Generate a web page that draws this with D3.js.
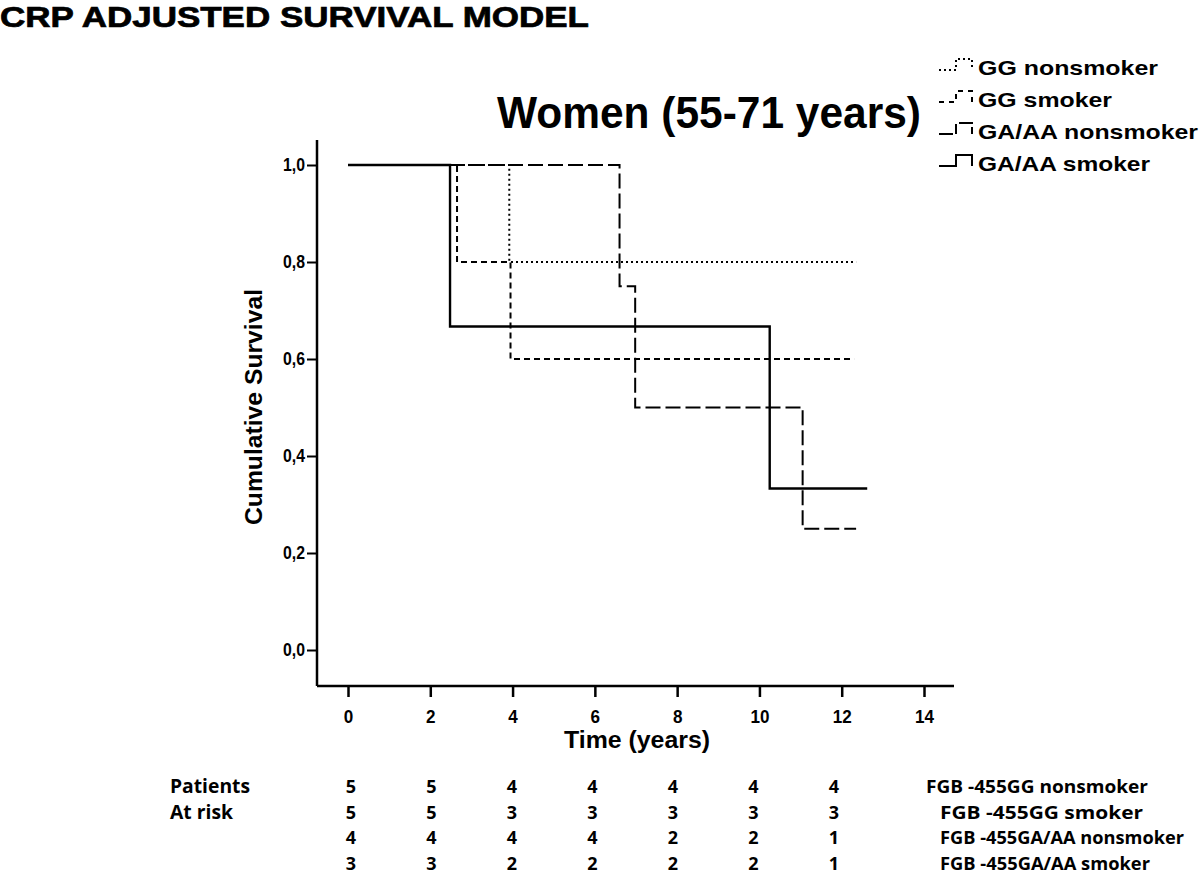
<!DOCTYPE html>
<html><head><meta charset="utf-8">
<script src="https://cdn.jsdelivr.net/npm/d3@7"></script>
<style>body{margin:0;background:#fff}svg{display:block}</style>
</head><body>
<svg id="c" width="1200" height="875"></svg>
<script>
// ---- data ----
const seriesNames = ["GG nonsmoker", "GG smoker", "GA/AA nonsmoker", "GA/AA smoker"];
// step curves: [time, survival] points (survival after each event)
const ggNonsmoker = [[0, 1.0], [3.92, 0.8], [12.35, 0.8]];
const ggSmoker = [[0, 1.0], [2.65, 0.8], [3.95, 0.6], [12.3, 0.6]];
const gaNonsmoker = [[0, 1.0], [6.6, 0.75], [6.98, 0.5], [11.05, 0.25], [12.35, 0.25]];
const gaSmoker = [[0, 1.0], [2.48, 0.667], [10.25, 0.333], [12.62, 0.333]];
const xTicks = [0, 2, 4, 6, 8, 10, 12, 14];
const yTicks = [0, 0.2, 0.4, 0.6, 0.8, 1.0];
const riskRowLabels = ["FGB -455GG nonsmoker", "FGB -455GG smoker", "FGB -455GA/AA nonsmoker", "FGB -455GA/AA smoker"];
const riskGG_non = [5, 5, 4, 4, 4, 4, 4];
const riskGG_smk = [5, 5, 3, 3, 3, 3, 3];
const riskGA_non = [4, 4, 4, 4, 2, 2, 1];
const riskGA_smk = [3, 3, 2, 2, 2, 2, 1];

// ---- drawing ----
const svg = d3.select("#c");
const x = d3.scaleLinear().domain([0, 14]).range([348, 924]);
const y = d3.scaleLinear().domain([0, 1]).range([650, 165]);
const arial = "'Liberation Sans', Arial, sans-serif";
const calib = "'Open Sans', 'Noto Sans', sans-serif";

svg.append("text").attr("x", 0).attr("y", 26.5).attr("font-family", arial).attr("font-weight", 700)
  .attr("font-size", 29).attr("textLength", 589).attr("lengthAdjust", "spacingAndGlyphs")
  .attr("stroke", "#000").attr("stroke-width", 0.7)
  .text("CRP ADJUSTED SURVIVAL MODEL");

svg.append("text").attr("x", 497).attr("y", 128).attr("font-family", arial).attr("font-weight", 700)
  .attr("font-size", 44).attr("textLength", 424).attr("lengthAdjust", "spacingAndGlyphs")
  .text("Women (55-71 years)");

// axes
const xAxis = svg.append("g").attr("transform", "translate(0,686)")
  .call(d3.axisBottom(x).tickValues(xTicks).tickSize(11).tickPadding(6).tickSizeOuter(0));
xAxis.select(".domain").attr("d", "M317,0H954").attr("stroke-width", 2.5);
xAxis.selectAll(".tick line").attr("stroke-width", 2.5);
xAxis.selectAll(".tick text")
  .attr("font-family", arial).attr("font-weight", 700).attr("font-size", 18)
  .attr("y", 37).attr("dy", null)
  .attr("textLength", d => String(d).length * 9.5).attr("lengthAdjust", "spacingAndGlyphs");

const yAxis = svg.append("g").attr("transform", "translate(317,0)")
  .call(d3.axisLeft(y).tickValues(yTicks).tickSize(10).tickPadding(2).tickSizeOuter(0)
    .tickFormat(d => d3.format(".1f")(d).replace(".", ",")));
yAxis.select(".domain").attr("d", "M0,140V686").attr("stroke-width", 2.5);
yAxis.selectAll(".tick line").attr("stroke-width", 2);
yAxis.selectAll(".tick text").attr("font-family", arial).attr("font-weight", 700).attr("font-size", 18)
  .attr("textLength", 22).attr("lengthAdjust", "spacingAndGlyphs");

svg.append("text").attr("transform", "translate(262,407) rotate(-90)").attr("text-anchor", "middle")
  .attr("font-family", arial).attr("font-weight", 700).attr("font-size", 23)
  .attr("textLength", 236).attr("lengthAdjust", "spacingAndGlyphs").text("Cumulative Survival");
svg.append("text").attr("x", 637).attr("y", 748).attr("text-anchor", "middle")
  .attr("font-family", arial).attr("font-weight", 700).attr("font-size", 23)
  .attr("textLength", 146).attr("lengthAdjust", "spacingAndGlyphs").text("Time (years)");

// curves
const styles = [
  {data: ggNonsmoker, dash: "2,3", w: 2, ldash: "2,3"},
  {data: ggSmoker, dash: "6,4", w: 2, ldash: "5,5"},
  {data: gaNonsmoker, dash: "15,5", w: 2, ldash: "14,3,10,4"},
  {data: gaSmoker, dash: null, w: 2.4, ldash: null}
];
const line = d3.line().x(d => x(d[0])).y(d => y(d[1])).curve(d3.curveStepAfter);
styles.forEach(s => {
  svg.append("path").datum(s.data).attr("d", line).attr("fill", "none").attr("stroke", "#000")
    .attr("stroke-width", s.w).attr("stroke-dasharray", s.dash);
});

// legend
const lg = svg.append("g");
const legBase = [75, 107, 139, 171];
const legW = [180, 134, 220, 172];
seriesNames.forEach((n, i) => {
  const b = legBase[i];
  const s = styles[i];
  lg.append("path").attr("d", `M939,${b - 5}H956V${b - 16}H972V${b - 5}`).attr("fill", "none")
    .attr("stroke", "#000").attr("stroke-width", 2).attr("stroke-dasharray", s.ldash);
  lg.append("text").attr("x", 978).attr("y", b).attr("font-family", arial).attr("font-weight", 700)
    .attr("font-size", 21).attr("textLength", legW[i]).attr("lengthAdjust", "spacingAndGlyphs").text(n);
});

// risk table
const cols = d3.scalePoint().domain(d3.range(7)).range([351, 834]);
const riskRows = [riskGG_non, riskGG_smk, riskGA_non, riskGA_smk];
const rowY = d3.scalePoint().domain(d3.range(4)).range([793, 870]);
svg.append("text").attr("x", 170).attr("y", rowY(0)).attr("font-family", calib).attr("font-weight", 700)
  .attr("font-size", 19).attr("textLength", 80).attr("lengthAdjust", "spacingAndGlyphs").text("Patients");
svg.append("text").attr("x", 170).attr("y", rowY(1)).attr("font-family", calib).attr("font-weight", 700)
  .attr("font-size", 19).attr("textLength", 63).attr("lengthAdjust", "spacingAndGlyphs").text("At risk");
riskRows.forEach((row, r) => {
  row.forEach((v, c) => {
    svg.append("text").attr("x", cols(c)).attr("y", rowY(r)).attr("text-anchor", "middle")
      .attr("font-family", calib).attr("font-weight", 700).attr("font-size", 18).text(v);
  });
  svg.append("text").attr("x", r === 0 ? 926 : 940).attr("y", rowY(r)).attr("font-family", calib).attr("font-weight", 700)
    .attr("font-size", 18).attr("textLength", [222, 203, 244, 210][r]).attr("lengthAdjust", "spacingAndGlyphs").text(riskRowLabels[r]);
});
</script>
</body></html>
